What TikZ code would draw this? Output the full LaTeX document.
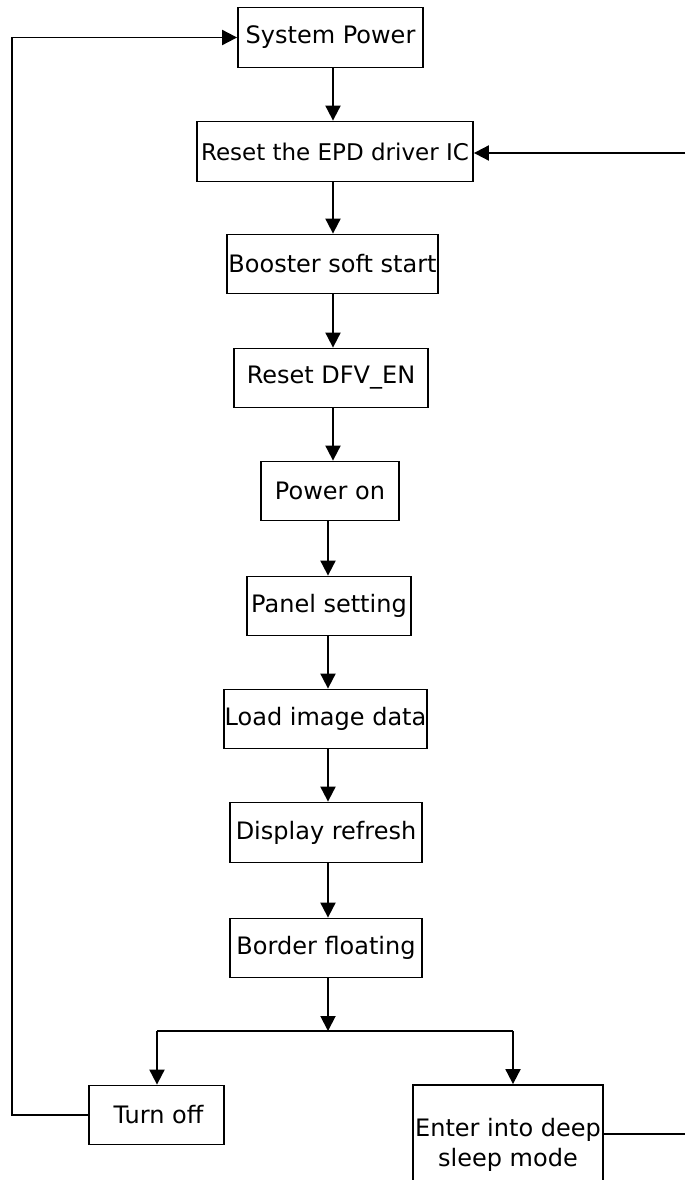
\documentclass[tikz,border=0pt]{standalone}
\usepackage{fontspec}
\setmainfont{DejaVu Sans}
\usetikzlibrary{arrows.meta}
\begin{document}
\begin{tikzpicture}[x=1pt,y=-1pt,
  fbox/.style={draw=black,line width=1.8pt,inner sep=0pt,align=center,
    font=\fontsize{24}{29.5}\selectfont},
  arr/.style={line width=1.9pt,-{Triangle[length=15pt,width=15pt]}},
  ln/.style={line width=1.9pt}]
\useasboundingbox[fill=white] (0,0) rectangle (685,1180);
% boxes: center, width, height
\node[fbox,minimum width=185pt,minimum height=60pt] (sp) at (330.5,37.5) {System Power};
\node[fbox,minimum width=276pt,minimum height=60pt,font=\fontsize{23}{28}\selectfont] (rst) at (335,151.5) {Reset the EPD driver IC};
\node[fbox,minimum width=211pt,minimum height=59pt] (boost) at (332.5,264) {Booster soft start};
\node[fbox,minimum width=194pt,minimum height=59pt] (dfv) at (331,378) {Reset DFV\_EN};
\node[fbox,minimum width=138pt,minimum height=59pt] (pon) at (330,491) {Power on};
\node[fbox,minimum width=164pt,minimum height=59pt] (panel) at (329,606) {Panel setting};
\node[fbox,minimum width=203pt,minimum height=59pt] (load) at (325.5,719) {Load image data};
\node[fbox,minimum width=192pt,minimum height=60pt] (disp) at (326,832.5) {Display refresh};
\node[fbox,minimum width=192pt,minimum height=59pt] (border) at (326,948) {Border floating};
\node[fbox,minimum width=135pt,minimum height=59pt] (off) at (156.5,1115) {\hspace*{4pt}Turn off};
\node[fbox,minimum width=190pt,minimum height=120pt] (deep) at (508,1145) {Enter into deep\\sleep mode};
% helper coordinates
\coordinate (cA) at (333,0);
\coordinate (cB) at (328,0);
\coordinate (j) at (328,1031);
\coordinate (jl) at (157,1031);
\coordinate (jr) at (513,1031);
\coordinate (lx) at (12,0);
\coordinate (rx) at (685,0);
\coordinate (rtop) at (685,153);
% main chain
\draw[arr] (sp.south -| cA) -- (rst.north -| cA);
\draw[arr] (rst.south -| cA) -- (boost.north -| cA);
\draw[arr] (boost.south -| cA) -- (dfv.north -| cA);
\draw[arr] (dfv.south -| cA) -- (pon.north -| cA);
\draw[arr] (pon.south -| cB) -- (panel.north -| cB);
\draw[arr] (panel.south -| cB) -- (load.north -| cB);
\draw[arr] (load.south -| cB) -- (disp.north -| cB);
\draw[arr] (disp.south -| cB) -- (border.north -| cB);
\draw[arr] (border.south -| cB) -- (j);
% branch
\draw[ln] (jl) -- (jr);
\draw[arr] (jl) -- (off.north -| jl);
\draw[arr] (jr) -- (deep.north -| jr);
% loops
\draw[arr] (off.west) -- (off.west -| lx) -- (sp.west -| lx) -- (sp.west);
\draw[ln] ([yshift=11pt]deep.east) -- ([yshift=11pt]deep.east -| rx);
\draw[arr] (rtop) -- (rtop -| rst.east);
\end{tikzpicture}
\end{document}
